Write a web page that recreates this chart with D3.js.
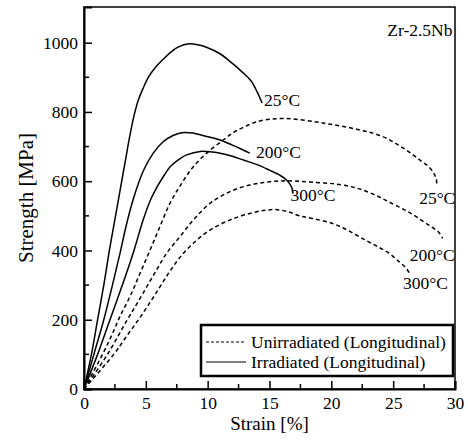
<!DOCTYPE html>
<meta charset="utf-8">
<title>Zr-2.5Nb strength vs strain</title>
<style>
    body { margin: 0; background: #fff; }
    svg, svg text { font-family: "Liberation Serif", "DejaVu Serif", "Times New Roman", serif; fill: #000; }
</style>
<script src="https://d3js.org/d3.v7.js"></script>

<svg id="chart" width="468" height="444"></svg>

<script>
    // curves: [strain %, strength MPa]
    const irr25 = [[0,0],[0.6,100],[1.1,200],[1.6,300],[2.05,400],[2.5,490],[2.9,570],[3.3,650],[3.7,730],[4.05,790],
        [4.4,835],[4.8,870],[5.2,900],[5.8,930],[6.4,952],[7.0,972],[7.6,987],[8.5,997],[9.2,994],[9.9,987],
        [11.0,968],[12.0,940],[12.8,915],[13.5,890],[14.0,858],[14.4,826]];
    const irr200 = [[0,0],[0.8,100],[1.6,200],[2.3,300],[2.9,390],[3.4,470],[4.0,550],[4.8,630],[5.6,681],
        [6.4,714],[7.2,732],[7.9,740],[8.8,739],[9.4,734],[10.2,727],[11.0,719],[12.0,704],[12.7,693],[13.4,681]];
    const irr300 = [[0,0],[1.1,100],[2.1,200],[3.1,300],[4.0,395],[4.8,490],[5.4,548],[5.9,583],
        [6.5,618],[7.0,643],[7.8,666],[8.3,676],[9.4,686],[10.4,684],[11.0,681],[12.0,672],[12.9,661],[14.0,648],
        [15.0,632],[15.8,618],[16.4,603],[16.8,582],[16.9,564]];
    const unirr25 = [[0,0],[1.5,100],[2.3,160],[2.9,209],[3.72,267],[4.53,334],[5.34,401],[6.14,469],[6.95,536],
        [7.9,594],[8.84,642],[9.92,681],[11.26,719],[12.2,743],[13.15,760],[14.0,772],[15.0,779],[16.1,781],
        [17.4,778],[18.8,771],[19.8,765],[21.0,758],[22.3,748],[23.4,738],[24.4,725],[25.4,705],[26.3,684],
        [27.2,660],[27.9,641],[28.3,622],[28.5,605],[28.5,585]];
    const unirr200 = [[0,0],[1.9,100],[3.5,200],[4.26,245],[5.07,295],[5.87,344],[6.68,392],[7.76,440],[8.84,488],
        [10.19,536],[11.8,570],[13.4,589],[14.5,596],[15.5,600],[16.4,601],[17.4,600],[18.5,597],[20.1,593],
        [21.5,585],[22.5,575],[23.6,559],[24.5,543],[25.5,525],[26.4,508],[27.3,487],[28.1,468],[28.7,452],[29.0,435]];
    const unirr300 = [[0,0],[2.4,100],[3.4,150],[4.4,200],[5.34,250],[6.14,295],[6.95,340],[7.76,380],[8.84,421],
        [10.19,459],[11.8,488],[13.4,507],[14.65,516],[15.5,518],[16.5,512],[17.4,500],[18.5,492],[20.1,478],
        [21.5,455],[22.8,429],[23.8,410],[24.7,391],[25.4,370],[26.0,351],[26.3,336]];

    const seriesNames = ["irr25", "irr200", "irr300", "unirr25", "unirr200", "unirr300"];
    const seriesData = [irr25, irr200, irr300, unirr25, unirr200, unirr300];
    const seriesDashed = [false, false, false, true, true, true];
    const seriesLabels = ["25°C", "200°C", "300°C", "25°C", "200°C", "300°C"];
    // where each temperature label sits, in data units [strain, strength]
    const labelAt = [[14.55, 817], [13.9, 667], [16.7, 543], [27.1, 534], [26.35, 370], [25.8, 289]];

    const xTicks = [0, 5, 10, 15, 20, 25, 30];
    const xMinor = [2.5, 7.5, 12.5, 17.5, 22.5, 27.5];
    const yTicks = [0, 200, 400, 600, 800, 1000];
    const yMinor = [100, 300, 500, 700, 900];
    const legendLabels = ["Unirradiated (Longitudinal)", "Irradiated (Longitudinal)"];

    const svg = d3.select("#chart"),
        width = +svg.attr("width"),
        height = +svg.attr("height");
    const margin = {top: 7, right: 13, bottom: 55, left: 84};

    const x = d3.scaleLinear().domain([0, 30]).range([margin.left, width - margin.right]);
    const y = d3.scaleLinear().domain([0, 1103]).range([height - margin.bottom, margin.top]);

    // frame
    svg.append("rect")
        .attr("x", x(0)).attr("y", y(1103))
        .attr("width", x(30) - x(0)).attr("height", y(0) - y(1103))
        .attr("fill", "none").attr("stroke", "#000").attr("stroke-width", 1.5);

    // axes with inward ticks
    const xAxis = svg.append("g").attr("transform", `translate(0,${y(0)})`)
        .call(d3.axisBottom(x).tickValues(xTicks).tickSize(-8).tickPadding(8).tickFormat(d3.format("d")));
    xAxis.append("g").selectAll("line").data(xMinor).join("line")
        .attr("x1", d => x(d)).attr("x2", d => x(d)).attr("y1", 0).attr("y2", -5)
        .attr("stroke", "#000").attr("stroke-width", 1.5);

    const yAxis = svg.append("g").attr("transform", `translate(${x(0)},0)`)
        .call(d3.axisLeft(y).tickValues(yTicks).tickSize(-8).tickPadding(6).tickFormat(d3.format("d")));
    yAxis.append("g").selectAll("line").data(yMinor).join("line")
        .attr("y1", d => y(d)).attr("y2", d => y(d)).attr("x1", 0).attr("x2", 5)
        .attr("stroke", "#000").attr("stroke-width", 1.5);

    svg.selectAll("g").attr("font-family", null).attr("font-size", null);
    svg.selectAll(".domain").attr("stroke-width", 2);
    svg.selectAll(".tick line").attr("stroke-width", 1.5);
    svg.selectAll(".tick text").style("font-size", "17.5px");

    // axis titles
    svg.append("text")
        .attr("x", (x(0) + x(30)) / 2).attr("y", 430)
        .attr("text-anchor", "middle").style("font-size", "19px")
        .text("Strain [%]");
    svg.append("text")
        .attr("transform", `translate(33,${(y(0) + y(1103)) / 2}) rotate(-90)`)
        .attr("text-anchor", "middle").style("font-size", "21px")
        .text("Strength [MPa]");

    // curves
    const line = d3.line()
        .x(d => x(d[0])).y(d => y(d[1]))
        .curve(d3.curveCatmullRom.alpha(0.5));

    svg.append("g").selectAll("path")
        .data(seriesData)
        .join("path")
        .attr("class", (d, i) => seriesNames[i])
        .attr("d", line)
        .attr("fill", "none")
        .attr("stroke", "#000")
        .attr("stroke-width", 1.5)
        .attr("stroke-dasharray", (d, i) => seriesDashed[i] ? "4,3" : null);

    // temperature labels
    svg.append("g").selectAll("text")
        .data(seriesLabels)
        .join("text")
        .attr("x", (d, i) => x(labelAt[i][0]))
        .attr("y", (d, i) => y(labelAt[i][1]))
        .style("font-size", "17.5px")
        .text(d => d);

    svg.append("text")
        .attr("x", x(29.8)).attr("y", 36)
        .attr("text-anchor", "end").style("font-size", "17.5px")
        .text("Zr-2.5Nb");

    // legend
    const legend = svg.append("g").attr("transform", "translate(201,325)");
    legend.append("rect")
        .attr("width", 252).attr("height", 51)
        .attr("fill", "#fff").attr("stroke", "#000").attr("stroke-width", 2.5);
    legend.selectAll("line.sample")
        .data(legendLabels)
        .join("line")
        .attr("class", "sample")
        .attr("x1", 5).attr("x2", 45)
        .attr("y1", (d, i) => 17 + i * 20).attr("y2", (d, i) => 17 + i * 20)
        .attr("stroke", "#000").attr("stroke-width", 1.2)
        .attr("stroke-dasharray", (d, i) => i === 0 ? "3,2" : null);
    legend.selectAll("text")
        .data(legendLabels)
        .join("text")
        .attr("x", 50).attr("y", (d, i) => 23 + i * 20)
        .style("font-size", "17.5px")
        .text(d => d);
</script>
